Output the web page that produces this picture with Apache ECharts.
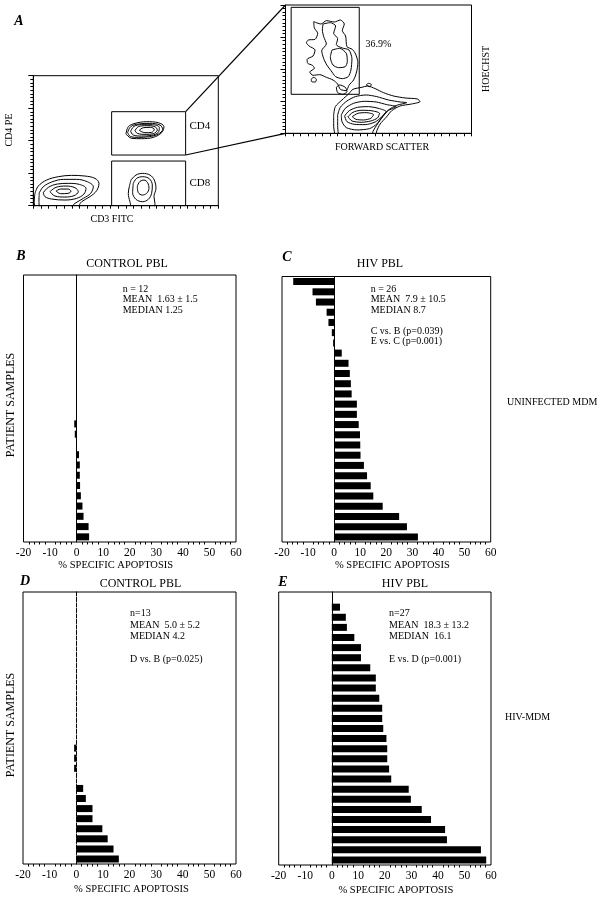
<!DOCTYPE html>
<html><head><meta charset="utf-8">
<script src="https://cdn.jsdelivr.net/npm/echarts@6/dist/echarts.min.js"></script>
<style>html,body{margin:0;padding:0;background:#fff}#c{width:602px;height:899px}</style>
</head><body><div id="c"></div><script>
// ---------- DATA ----------
// Panel B-E: % specific apoptosis per patient sample (top to bottom)
const slotsBC = 26, slotsDE = 27;
const controlPBL_uninf = [-0.9, -0.7, 0, 0.9, 1.2, 1.2, 1.3, 1.6, 2.2, 2.6, 4.5, 4.7];           // B, n=12
const hivPBL_uninf = [-15.7, -8.3, -7.0, -2.9, -2.2, -0.9, -0.4, 2.9, 5.5, 6.0, 6.4, 6.7, 8.7, 8.7,
                      9.4, 9.9, 10.0, 10.1, 11.4, 12.6, 14.0, 15.0, 18.6, 24.9, 27.9, 32.1];       // C, n=26
const controlPBL_hiv = [0, -0.8, -0.8, -0.8, 0, 2.6, 3.6, 6.1, 6.1, 9.8, 11.8, 14.0, 16.0];     // D, n=13
const hivPBL_hiv = [0, 3.1, 5.3, 5.7, 8.5, 11.0, 11.0, 14.5, 16.6, 16.6, 17.9, 19.0, 19.0, 19.4,
                    20.6, 20.9, 20.9, 21.6, 22.4, 29.0, 29.8, 33.9, 37.4, 42.7, 43.4, 56.2, 58.2]; // E, n=27
const xTicks = {min: -20, max: 60, interval: 10};

// Panel A: contour rings (instrument display units) for CD4 PE vs CD3 FITC
const cd3Rings = [
 [[105,400],[115,378],[140,360],[175,350],[215,346],[255,348],[285,355],[297,370],[290,392],[270,410],[245,425],[228,445],[108,445],[103,420]],
 [[118,398],[130,380],[155,366],[190,358],[230,358],[262,365],[280,380],[272,400],[250,415],[225,430],[205,445],[122,445],[117,420]],
 [[130,398],[145,382],[172,372],[205,370],[238,373],[258,385],[252,402],[230,415],[195,420],[155,417],[135,410]],
 [[150,395],[168,382],[198,378],[225,383],[235,395],[222,407],[195,411],[165,408]],
 [[168,393],[182,387],[205,387],[213,394],[204,400],[182,401]],
 [[378,222],[385,200],[405,190],[440,185],[475,188],[492,200],[485,218],[460,232],[425,236],[395,235]],
 [[383,218],[392,200],[415,192],[450,190],[480,195],[488,208],[475,222],[448,230],[415,232],[392,230]],
 [[392,214],[402,199],[425,194],[458,194],[478,202],[475,217],[455,226],[425,228],[400,225]],
 [[405,212],[415,200],[440,197],[465,200],[472,210],[460,221],[435,223],[412,220]],
 [[418,211],[430,203],[452,202],[463,208],[455,217],[435,218]],
 [[393,360],[408,345],[428,340],[450,345],[463,360],[468,385],[462,410],[465,430],[458,445],[398,445],[390,425],[385,400],[388,380]],
 [[400,370],[410,355],[428,350],[448,356],[457,375],[455,400],[445,418],[428,425],[408,418],[398,398]],
 [[412,378],[420,364],[432,360],[443,368],[447,385],[440,400],[427,405],[415,398]]
];
const cd3Gates = [[335,155,557,285],[335,303,557,437]];
// HOECHST vs FORWARD SCATTER contour rings
const fscRings = [
 [[160,345],[165,320],[185,300],[205,282],[218,268],[245,262],[262,258],[285,266],[310,278],[340,288],[375,294],[412,297],[420,305],[395,312],[360,318],[335,332],[318,352],[300,372],[290,392],[285,410],[170,410],[160,375]],
 [[172,345],[180,322],[200,303],[225,290],[258,285],[290,290],[325,300],[360,306],[380,308],[350,316],[325,330],[308,350],[292,372],[278,395],[275,410],[180,410],[172,372]],
 [[183,345],[195,325],[220,310],[252,304],[288,306],[320,314],[348,320],[322,333],[305,352],[290,372],[268,386],[230,390],[198,383],[185,365]],
 [[193,348],[207,332],[232,322],[265,320],[298,326],[318,335],[303,352],[285,366],[255,374],[222,373],[200,365]],
 [[203,350],[218,337],[242,331],[272,332],[298,340],[292,354],[272,363],[243,367],[215,363]],
 [[216,350],[233,340],[258,338],[280,344],[272,355],[250,360],[227,358]],
 [[100,65],[122,72],[138,62],[162,66],[180,60],[192,72],[186,92],[196,108],[200,140],[216,148],[226,162],[233,188],[229,216],[220,240],[206,256],[198,272],[180,268],[172,252],[158,240],[138,232],[118,224],[98,226],[88,216],[102,205],[96,196],[82,190],[80,178],[98,168],[104,150],[86,138],[78,128],[84,120],[104,118],[112,100],[102,84]],
 [[128,72],[150,68],[166,78],[160,100],[172,116],[168,134],[186,144],[206,150],[215,176],[212,210],[204,230],[186,236],[166,230],[152,212],[140,196],[130,176],[124,152],[138,132],[130,110],[126,90]],
 [[155,150],[178,145],[198,160],[201,185],[195,200],[175,203],[158,195],[150,172]],
 [[92,238],[100,232],[108,238],[105,246],[95,246]],
 [[168,262],[178,255],[195,262],[200,275],[188,283],[172,278]],
 [[258,255],[265,250],[274,254],[268,260]]
];
const fscGates = [[32,22,237,283]];

// ---------- CHART ----------
const FONT = 'Liberation Serif';
const chart = echarts.init(document.getElementById('c'), null, {renderer: 'canvas'});

function pad(vals, n) { const out = []; for (let i = 0; i < n - vals.length; i++) out.push('-'); return out.concat(vals); }
function cats(n) { const a = []; for (let i = 1; i <= n; i++) a.push(String(i)); return a; }

const grids = [
  {left: 33.3, top: 75.7, width: 185, height: 130},   // A left
  {left: 285.5, top: 5, width: 186, height: 128.3},   // A right
  {left: 23.5, top: 275, width: 212.5, height: 267},  // B
  {left: 282, top: 276.5, width: 208.7, height: 265.5}, // C
  {left: 23, top: 592, width: 213, height: 272},      // D
  {left: 278.7, top: 592, width: 212.3, height: 273}  // E
].map(g => Object.assign({show: true, borderColor: '#000', borderWidth: 1, backgroundColor: 'transparent'}, g));

const blk = {color: '#000', width: 1};
const xAxes = [], yAxes = [], series = [];
// Panel A axes
function flowAxes(g, xmax, hx, hy) {
  xAxes.push({gridIndex: g, type: 'value', min: 0, max: xmax, interval: 10, axisLine: {lineStyle: blk},
    axisTick: {length: 3, lineStyle: blk}, axisLabel: {show: false}, splitLine: {show: false}});
  yAxes.push({gridIndex: g, type: 'value', min: 0, max: 4, interval: 1, axisLine: {lineStyle: blk},
    axisTick: {length: 5, lineStyle: blk}, minorTick: {show: true, splitNumber: 9, length: 3, lineStyle: blk},
    axisLabel: {show: false}, splitLine: {show: false}});
  xAxes.push({gridIndex: g, type: 'value', min: hx[0], max: hx[1], show: false, splitLine: {show: false}});
  yAxes.push({gridIndex: g, type: 'value', min: hy[0], max: hy[1], inverse: true, show: false, splitLine: {show: false}});
}
flowAxes(0, 240, [100, 655], [47, 437]);
flowAxes(1, 250, [15, 575], [15, 400]);
function ringSeries(rings, ai, smooth) {
  rings.forEach(r => series.push({type: 'line', xAxisIndex: ai, yAxisIndex: ai, data: r.concat([r[0]]),
    smooth: smooth, symbol: 'none', clip: true, silent: true, lineStyle: {color: '#000', width: 1}}));
}
function gateSeries(gates, ai) {
  gates.forEach(g => series.push({type: 'line', xAxisIndex: ai, yAxisIndex: ai, symbol: 'none', silent: true,
    data: [[g[0], g[1]], [g[2], g[1]], [g[2], g[3]], [g[0], g[3]], [g[0], g[1]]],
    lineStyle: {color: '#000', width: 1}}));
}
ringSeries(cd3Rings, 1, 0.35);
gateSeries(cd3Gates, 1);
ringSeries(fscRings, 3, 0.25);
gateSeries(fscGates, 3);

// Panels B-E
const panels = [
  {g: 2, vals: controlPBL_uninf, n: slotsBC, gap: 17, dashed: false, shift: -14},
  {g: 3, vals: hivPBL_uninf, n: slotsBC, gap: 17, dashed: false, shift: 6},
  {g: 4, vals: controlPBL_hiv, n: slotsDE, gap: 20, dashed: true, shift: 2},
  {g: 5, vals: hivPBL_hiv, n: slotsDE, gap: 20, dashed: false, shift: 11}
];
panels.forEach((p, i) => {
  const ai = 4 + i;
  const padN = p.shift >= 0 ? [0, 0, 0, 2 * p.shift] : [0, -2 * p.shift, 0, 0];
  xAxes.push({gridIndex: p.g, type: 'value', min: xTicks.min, max: xTicks.max, interval: xTicks.interval,
    axisLine: {lineStyle: blk}, axisTick: {length: 4, lineStyle: blk},
    minorTick: {show: true, splitNumber: 5, length: 2.5, lineStyle: blk},
    splitLine: {show: false}, minorSplitLine: {show: false},
    axisLabel: {color: '#000', fontFamily: FONT, fontSize: 11.5, margin: 5},
    name: '% SPECIFIC APOPTOSIS', nameLocation: 'middle', nameGap: p.gap,
    nameTextStyle: {color: '#000', fontFamily: FONT, fontSize: 10.5, padding: padN}});
  yAxes.push({gridIndex: p.g, type: 'category', inverse: true, data: cats(p.n),
    axisLine: {onZero: true, lineStyle: {color: '#000', width: 1, type: p.dashed ? [4, 1.5] : 'solid'}},
    axisTick: {show: false}, axisLabel: {show: false}, splitLine: {show: false}});
  series.push({type: 'bar', xAxisIndex: ai, yAxisIndex: ai, data: pad(p.vals, p.n), barWidth: 7,
    silent: true, itemStyle: {color: '#000'}});
});

chart.setOption({animation: false, backgroundColor: '#fff', grid: grids, xAxis: xAxes, yAxis: yAxes, series: series});

// ---------- ANNOTATIONS ----------
function txt(t, x, y, size, opts) {
  opts = opts || {};
  return {type: 'text', x: x, y: y, rotation: opts.rot || 0, silent: true,
    style: {text: t, x: 0, y: 0, fill: '#000', textAlign: opts.align || 'left', textVerticalAlign: 'middle',
      font: (opts.weight || '') + ' ' + size + 'px "' + FONT + '"'}};
}
const g = [];
const letter = 'italic bold';
g.push(txt('A', 19, 21, 14, {weight: letter, align: 'center'}));
g.push(txt('B', 21, 256, 14, {weight: letter, align: 'center'}));
g.push(txt('C', 287, 257, 14, {weight: letter, align: 'center'}));
g.push(txt('D', 25, 581, 14, {weight: letter, align: 'center'}));
g.push(txt('E', 283, 582, 14, {weight: letter, align: 'center'}));
g.push(txt('CONTROL PBL', 127, 264, 12, {align: 'center'}));
g.push(txt('HIV PBL', 380, 264, 12, {align: 'center'}));
g.push(txt('CONTROL PBL', 140.5, 584, 12, {align: 'center'}));
g.push(txt('HIV PBL', 405, 584, 12, {align: 'center'}));
// stats
[['n = 12', 289], ['MEAN  1.63 \u00b1 1.5', 299.5], ['MEDIAN 1.25', 310]].forEach(l => g.push(txt(l[0], 122.7, l[1], 10)));
[['n = 26', 289], ['MEAN  7.9 \u00b1 10.5', 299.5], ['MEDIAN 8.7', 310], ['C vs. B (p=0.039)', 331], ['E vs. C (p=0.001)', 341.5]].forEach(l => g.push(txt(l[0], 370.7, l[1], 10)));
[['n=13', 613.3], ['MEAN  5.0 \u00b1 5.2', 625], ['MEDIAN 4.2', 636], ['D vs. B (p=0.025)', 659]].forEach(l => g.push(txt(l[0], 130, l[1], 10)));
[['n=27', 613.3], ['MEAN  18.3 \u00b1 13.2', 625], ['MEDIAN  16.1', 636], ['E vs. D (p=0.001)', 659]].forEach(l => g.push(txt(l[0], 389, l[1], 10)));
g.push(txt('PATIENT SAMPLES', 11, 405, 12, {rot: Math.PI / 2, align: 'center'}));
g.push(txt('PATIENT SAMPLES', 11, 725, 12, {rot: Math.PI / 2, align: 'center'}));
g.push(txt('UNINFECTED MDM', 507, 402, 10));
g.push(txt('HIV-MDM', 505, 717, 10));
// panel A labels
g.push(txt('CD4', 189.5, 126, 11));
g.push(txt('CD8', 189.5, 183.5, 11));
g.push(txt('CD4 PE', 9, 130, 10, {rot: Math.PI / 2, align: 'center'}));
g.push(txt('CD3 FITC', 112, 219.5, 10, {align: 'center'}));
g.push(txt('FORWARD SCATTER', 382, 147, 10, {align: 'center'}));
g.push(txt('HOECHST', 486, 69, 10, {rot: Math.PI / 2, align: 'center'}));
g.push(txt('36.9%', 365.5, 44.5, 10));
// connector lines from CD4 gate to the zoomed plot
const gate = cd3Gates[0];
const p1 = chart.convertToPixel({xAxisIndex: 1, yAxisIndex: 1}, [gate[2], gate[1]]);
const p2 = chart.convertToPixel({xAxisIndex: 1, yAxisIndex: 1}, [gate[2], gate[3]]);
const q1 = chart.convertToPixel({xAxisIndex: 3, yAxisIndex: 3}, [15, 15]);
const q2 = chart.convertToPixel({xAxisIndex: 3, yAxisIndex: 3}, [15, 400]);
g.push({type: 'line', silent: true, shape: {x1: p1[0], y1: p1[1], x2: q1[0], y2: q1[1]}, style: {stroke: '#000', lineWidth: 1.2}});
g.push({type: 'line', silent: true, shape: {x1: p2[0], y1: p2[1], x2: q2[0], y2: q2[1]}, style: {stroke: '#000', lineWidth: 1.2}});
chart.setOption({graphic: {elements: g}});
</script></body></html>
